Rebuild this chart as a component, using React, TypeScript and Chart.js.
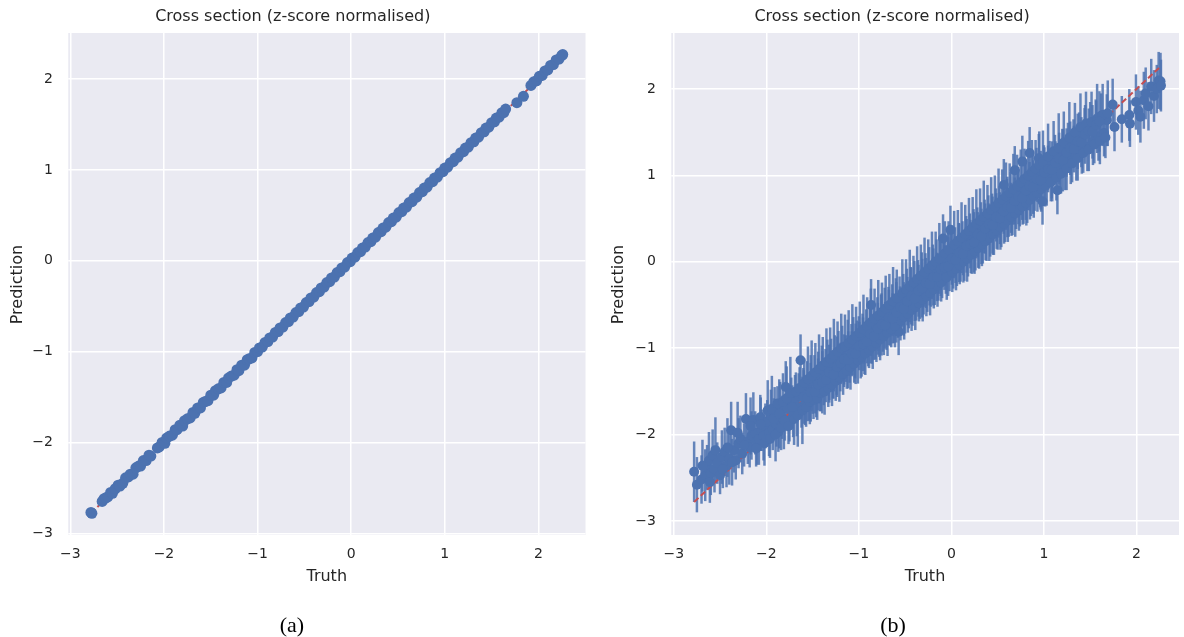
import React, { useEffect, useRef } from "react";
import { Chart, registerables } from "chart.js";
Chart.register(...registerables);

const TITLE = "Cross section (z-score normalised)";
const X_LABEL = "Truth";
const Y_LABEL = "Prediction";
const TICKS = [-3, -2, -1, 0, 1, 2];
const CAPTIONS = ["(a)", "(b)"];

// Panel (a): truth vs prediction (almost perfect)
const truthA = [
  -2.78, -2.77, -2.66, -2.64, -2.62, -2.60, -2.57, -2.55, -2.52, -2.49, -2.47, -2.44, -2.41, -2.38, -2.36, -2.33,
  -2.30, -2.27, -2.25, -2.22, -2.19, -2.16, -2.14, -2.07, -2.05, -2.02, -1.99, -1.97, -1.94, -1.91, -1.88, -1.86,
  -1.83, -1.80, -1.78, -1.75, -1.72, -1.69, -1.67, -1.64, -1.61, -1.58, -1.56, -1.53, -1.50, -1.47, -1.45, -1.42,
  -1.39, -1.36, -1.33, -1.31, -1.28, -1.25, -1.22, -1.20, -1.17, -1.14, -1.11, -1.09, -1.06, -1.03, -1.00, -0.98,
  -0.95, -0.92, -0.89, -0.87, -0.84, -0.81, -0.78, -0.76, -0.73, -0.70, -0.67, -0.65, -0.62, -0.59, -0.56, -0.54,
  -0.51, -0.48, -0.45, -0.43, -0.40, -0.37, -0.34, -0.32, -0.29, -0.26, -0.23, -0.21, -0.18, -0.15, -0.12, -0.10,
  -0.07, -0.04, -0.01, 0.01, 0.04, 0.07, 0.10, 0.12, 0.15, 0.18, 0.21, 0.23, 0.26, 0.29, 0.32, 0.34,
  0.37, 0.40, 0.43, 0.45, 0.48, 0.51, 0.54, 0.56, 0.59, 0.62, 0.65, 0.67, 0.70, 0.73, 0.76, 0.78,
  0.81, 0.84, 0.87, 0.89, 0.92, 0.95, 0.98, 1.00, 1.03, 1.06, 1.09, 1.11, 1.14, 1.17, 1.20, 1.22,
  1.25, 1.28, 1.31, 1.33, 1.36, 1.39, 1.42, 1.44, 1.47, 1.50, 1.53, 1.55, 1.58, 1.61, 1.63, 1.65,
  1.77, 1.84, 1.92, 1.95, 1.98, 2.01, 2.04, 2.07, 2.10, 2.13, 2.16, 2.19, 2.22, 2.25, 2.26,
];
const predA = [
  -2.77, -2.78, -2.65, -2.62, -2.61, -2.60, -2.55, -2.56, -2.51, -2.47, -2.48, -2.45, -2.39, -2.38, -2.35, -2.35,
  -2.28, -2.26, -2.26, -2.20, -2.20, -2.14, -2.15, -2.06, -2.05, -2.00, -2.01, -1.95, -1.93, -1.92, -1.86, -1.86,
  -1.81, -1.82, -1.76, -1.74, -1.73, -1.67, -1.68, -1.62, -1.62, -1.56, -1.55, -1.54, -1.48, -1.48, -1.43, -1.41,
  -1.40, -1.34, -1.34, -1.29, -1.27, -1.26, -1.20, -1.21, -1.15, -1.15, -1.09, -1.08, -1.07, -1.01, -1.00, -0.96,
  -0.95, -0.90, -0.89, -0.85, -0.84, -0.79, -0.78, -0.74, -0.73, -0.68, -0.67, -0.63, -0.62, -0.57, -0.56, -0.52,
  -0.51, -0.46, -0.45, -0.41, -0.40, -0.35, -0.34, -0.30, -0.29, -0.24, -0.23, -0.19, -0.18, -0.13, -0.12, -0.08,
  -0.07, -0.02, -0.01, 0.03, 0.04, 0.09, 0.10, 0.14, 0.15, 0.20, 0.21, 0.25, 0.26, 0.31, 0.32, 0.36,
  0.37, 0.42, 0.43, 0.47, 0.48, 0.53, 0.54, 0.58, 0.59, 0.64, 0.65, 0.69, 0.70, 0.75, 0.76, 0.80,
  0.81, 0.86, 0.87, 0.91, 0.92, 0.97, 0.98, 1.02, 1.03, 1.08, 1.09, 1.13, 1.14, 1.19, 1.20, 1.24,
  1.25, 1.30, 1.31, 1.35, 1.36, 1.41, 1.42, 1.46, 1.47, 1.52, 1.53, 1.57, 1.58, 1.63, 1.63, 1.67,
  1.74, 1.81, 1.93, 1.97, 1.98, 2.03, 2.04, 2.09, 2.10, 2.15, 2.16, 2.21, 2.22, 2.26, 2.27,
];

// Panel (b): truth vs prediction with uncertainty (half-length of error bar)
const truthB = [
  -2.78, -2.75, -2.70, -2.66, -2.64, -2.62, -2.60, -2.58, -2.56, -2.53, -2.50, -2.48, -2.45, -2.43, -2.40, -2.38,
  -2.35, -2.33, -2.30, -2.28, -2.26, -2.22, -2.20, -2.18, -2.16, -2.14, -2.12, -2.10, -2.08, -2.065, -2.05, -2.03,
  -2.01, -1.99, -1.97, -1.95, -1.93, -1.91, -1.89, -1.87, -1.85, -1.83, -1.81, -1.79, -1.77, -1.75, -1.73, -1.71,
  -1.69, -1.67, -1.65, -1.63, -1.62, -1.60, -1.58, -1.56, -1.54, -1.52, -1.50, -1.48, -1.46, -1.44, -1.42, -1.40,
  -1.38, -1.36, -1.34, -1.32, -1.30, -1.28, -1.26, -1.24, -1.22, -1.20, -1.18, -1.16, -1.14, -1.12, -1.10, -1.08,
  -1.06, -1.04, -1.02, -1.00, -0.98, -0.96, -0.94, -0.92, -0.90, -0.88, -0.868, -0.86, -0.84, -0.82, -0.80, -0.78,
  -0.76, -0.74, -0.72, -0.70, -0.68, -0.66, -0.64, -0.62, -0.60, -0.58, -0.57, -0.56, -0.54, -0.52, -0.50, -0.48,
  -0.46, -0.44, -0.42, -0.40, -0.38, -0.36, -0.34, -0.32, -0.30, -0.28, -0.26, -0.24, -0.22, -0.20, -0.18, -0.16,
  -0.14, -0.12, -0.10, -0.09, -0.08, -0.06, -0.04, -0.02, -0.01, 0.00, 0.02, 0.04, 0.06, 0.08, 0.10, 0.12,
  0.14, 0.16, 0.18, 0.20, 0.22, 0.24, 0.26, 0.28, 0.30, 0.32, 0.34, 0.36, 0.38, 0.40, 0.42, 0.44,
  0.46, 0.48, 0.50, 0.52, 0.54, 0.567, 0.58, 0.60, 0.62, 0.64, 0.66, 0.685, 0.70, 0.72, 0.74, 0.767,
  0.78, 0.80, 0.82, 0.846, 0.86, 0.88, 0.90, 0.92, 0.945, 0.96, 0.985, 1.00, 1.03, 1.06, 1.09, 1.12,
  1.146, 1.17, 1.20, 1.23, 1.26, 1.29, 1.32, 1.35, 1.38, 1.41, 1.44, 1.47, 1.50, 1.53, 1.56, 1.59,
  1.62, 1.65, 1.68, 1.743, 1.763, 1.842, 1.923, 1.93, 1.995, 2.02, 2.043, 2.08, 2.10, 2.13, 2.16, 2.19,
  2.22, 2.24, 2.26, 2.265,
];
const predB = [
  -2.43, -2.58, -2.52, -2.47, -2.38, -2.30, -2.45, -2.24, -2.40, -2.33, -2.47, -2.26, -2.20, -2.36, -2.28, -1.95,
  -2.18, -2.30, -2.10, -2.05, -2.22, -1.82, -2.08, -2.15, -2.01, -1.83, -1.98, -2.08, -2.05, -1.80, -1.95, -2.02,
  -1.90, -1.85, -1.98, -1.78, -1.94, -1.73, -1.88, -1.97, -1.68, -1.80, -1.90, -1.45, -1.70, -1.84, -1.62, -1.78,
  -1.58, -1.72, -1.55, -1.14, -1.68, -1.50, -1.64, -1.43, -1.58, -1.38, -1.52, -1.35, -1.55, -1.33, -1.47, -1.25,
  -1.42, -1.28, -1.20, -1.38, -1.17, -1.32, -1.12, -1.30, -1.09, -1.24, -1.02, -1.20, -1.12, -0.97, -1.16, -0.99,
  -0.92, -1.10, -0.95, -0.89, -1.07, -0.85, -1.00, -0.82, -0.97, -0.77, -0.50, -0.92, -0.72, -0.88, -0.69, -0.84,
  -0.65, -0.80, -0.59, -0.76, -0.57, -0.72, -0.53, -0.68, -0.49, -0.64, -0.81, -0.45, -0.60, -0.41, -0.57, -0.37,
  -0.52, -0.33, -0.48, -0.27, -0.44, -0.25, -0.40, -0.19, -0.36, -0.17, -0.32, -0.11, -0.28, -0.07, -0.24, -0.03,
  -0.20, 0.01, -0.16, 0.27, 0.03, -0.12, 0.09, -0.08, 0.37, 0.11, -0.04, 0.15, 0.00, 0.19, 0.04, 0.23,
  0.07, 0.27, 0.10, 0.31, 0.14, 0.35, 0.17, 0.39, 0.21, 0.43, 0.25, 0.47, 0.29, 0.51, 0.33, 0.55,
  0.37, 0.59, 0.41, 0.63, 0.45, 0.89, 0.49, 0.69, 0.53, 0.75, 0.57, 1.06, 0.63, 0.83, 0.67, 1.16,
  0.71, 0.89, 0.73, 1.26, 0.79, 0.97, 0.83, 1.03, 1.20, 0.89, 0.70, 1.09, 0.93, 1.15, 0.97, 1.21,
  0.83, 1.07, 1.29, 1.11, 1.35, 1.17, 1.41, 1.23, 1.47, 1.29, 1.53, 1.33, 1.59, 1.39, 1.63, 1.45,
  1.69, 1.49, 1.64, 1.82, 1.56, 1.65, 1.70, 1.60, 1.85, 1.75, 1.68, 1.87, 1.95, 1.80, 2.03, 1.92,
  2.00, 2.10, 2.09, 2.04,
];
const errB = [
  0.35, 0.32, 0.28, 0.30, 0.26, 0.33, 0.25, 0.30, 0.27, 0.24, 0.22, 0.31, 0.28, 0.25, 0.30, 0.33,
  0.26, 0.22, 0.29, 0.27, 0.24, 0.30, 0.26, 0.23, 0.28, 0.32, 0.25, 0.27, 0.30, 0.26, 0.24, 0.28,
  0.26, 0.25, 0.27, 0.30, 0.24, 0.28, 0.26, 0.23, 0.29, 0.25, 0.27, 0.30, 0.26, 0.24, 0.28, 0.25,
  0.27, 0.30, 0.26, 0.30, 0.24, 0.27, 0.25, 0.28, 0.26, 0.30, 0.24, 0.27, 0.25, 0.29, 0.26, 0.28,
  0.24, 0.27, 0.30, 0.25, 0.28, 0.26, 0.27, 0.24, 0.29, 0.26, 0.28, 0.25, 0.27, 0.30, 0.24, 0.27,
  0.28, 0.25, 0.27, 0.26, 0.28, 0.25, 0.30, 0.27, 0.24, 0.29, 0.30, 0.26, 0.27, 0.25, 0.28, 0.26,
  0.27, 0.24, 0.29, 0.26, 0.28, 0.25, 0.27, 0.26, 0.30, 0.24, 0.27, 0.28, 0.25, 0.27, 0.26, 0.29,
  0.25, 0.27, 0.26, 0.28, 0.24, 0.27, 0.26, 0.30, 0.25, 0.27, 0.26, 0.28, 0.24, 0.27, 0.26, 0.29,
  0.25, 0.27, 0.26, 0.28, 0.27, 0.25, 0.28, 0.26, 0.28, 0.26, 0.27, 0.25, 0.28, 0.26, 0.27, 0.24,
  0.29, 0.26, 0.27, 0.25, 0.28, 0.26, 0.27, 0.24, 0.29, 0.26, 0.27, 0.25, 0.28, 0.26, 0.27, 0.24,
  0.29, 0.26, 0.27, 0.25, 0.28, 0.30, 0.26, 0.27, 0.24, 0.29, 0.26, 0.28, 0.25, 0.27, 0.26, 0.30,
  0.27, 0.25, 0.28, 0.30, 0.26, 0.27, 0.24, 0.29, 0.28, 0.26, 0.27, 0.26, 0.28, 0.25, 0.27, 0.26,
  0.28, 0.27, 0.25, 0.28, 0.26, 0.27, 0.24, 0.29, 0.26, 0.27, 0.25, 0.28, 0.26, 0.27, 0.25, 0.28,
  0.26, 0.27, 0.30, 0.30, 0.28, 0.27, 0.30, 0.27, 0.32, 0.28, 0.30, 0.33, 0.30, 0.28, 0.32, 0.30,
  0.28, 0.33, 0.33, 0.30,
];
// Panel (b), further samples in the dense part of the cloud
const truthB2 = [
  -2.69, -2.61, -2.55, -2.47, -2.42, -2.37, -2.31, -2.24, -2.17, -2.11, -2.06, -2.02,
  -1.985, -1.96, -1.94, -1.92, -1.90, -1.88, -1.86, -1.84, -1.82, -1.80,
  -1.78, -1.76, -1.74, -1.72, -1.70, -1.68, -1.66, -1.64, -1.61, -1.59,
  -1.57, -1.55, -1.53, -1.51, -1.49, -1.47, -1.45, -1.43, -1.41, -1.39,
  -1.37, -1.35, -1.33, -1.31, -1.29, -1.27, -1.25, -1.23, -1.21, -1.19,
  -1.17, -1.15, -1.13, -1.11, -1.09, -1.07, -1.05, -1.03, -1.01,
  -0.99, -0.97, -0.95, -0.93, -0.91, -0.89, -0.87, -0.85, -0.83, -0.81,
  -0.79, -0.77, -0.75, -0.73, -0.71, -0.69, -0.67, -0.65, -0.63, -0.61,
  -0.59, -0.55, -0.53, -0.51, -0.49, -0.47, -0.45, -0.43, -0.41, -0.39,
  -0.37, -0.35, -0.33, -0.31, -0.29, -0.27, -0.25, -0.23, -0.21, -0.19,
  -0.17, -0.15, -0.13, -0.11, -0.07, -0.05, -0.03, 0.01,
  0.03, 0.05, 0.07, 0.09, 0.11, 0.13, 0.15, 0.17, 0.19, 0.21,
  0.23, 0.25, 0.27, 0.29, 0.31, 0.33, 0.35, 0.37, 0.39, 0.41,
  0.43, 0.45, 0.47, 0.49, 0.51, 0.53, 0.55, 0.57, 0.59, 0.61,
  0.63, 0.65, 0.67, 0.69, 0.71, 0.73, 0.75, 0.77, 0.79, 0.81,
  0.83, 0.85, 0.87, 0.89, 0.91, 0.93, 0.95, 0.97, 0.99,
  1.015, 1.045, 1.075, 1.105, 1.135, 1.16, 1.185, 1.215, 1.245, 1.275, 1.305, 1.335,
  1.365, 1.395, 1.425, 1.455, 1.485, 1.515, 1.545, 1.575, 1.605, 1.635, 1.665, 1.69,
];
const predB2 = [
  -2.36, -2.55, -2.18, -2.40, -2.15, -2.32, -1.98, -2.12, -1.90, -2.16, -1.88, -2.10,
  -1.72, -2.05, -1.70, -1.82, -2.00, -1.64, -1.76, -1.92, -1.62, -1.84,
  -1.58, -1.90, -1.52, -1.68, -1.82, -1.50, -1.78, -1.46, -1.72, -1.40,
  -1.68, -1.36, -1.62, -1.32, -1.60, -1.28, -1.58, -1.24, -1.52, -1.20,
  -1.50, -1.16, -1.46, -1.12, -1.42, -1.08, -1.38, -1.04, -1.34, -1.00,
  -1.30, -0.98, -1.26, -0.94, -1.22, -0.90, -1.18, -0.86, -1.14,
  -0.82, -1.10, -0.78, -1.06, -0.74, -1.02, -0.70, -0.98, -0.66, -0.94,
  -0.62, -0.90, -0.58, -0.86, -0.54, -0.82, -0.50, -0.78, -0.46, -0.74,
  -0.42, -0.68, -0.36, -0.64, -0.32, -0.60, -0.28, -0.56, -0.24, -0.52,
  -0.20, -0.48, -0.16, -0.44, -0.12, -0.40, -0.08, -0.36, -0.04, -0.32,
  0.00, -0.28, 0.04, -0.24, 0.10, -0.18, 0.14, -0.12,
  0.20, -0.08, 0.24, -0.04, 0.28, 0.00, 0.32, 0.04, 0.36, 0.08,
  0.40, 0.12, 0.44, 0.16, 0.48, 0.20, 0.52, 0.24, 0.56, 0.28,
  0.60, 0.32, 0.64, 0.36, 0.68, 0.40, 0.72, 0.44, 0.76, 0.48,
  0.80, 0.52, 0.84, 0.56, 0.88, 0.60, 0.92, 0.64, 0.96, 0.68,
  1.00, 0.72, 1.04, 0.76, 1.08, 0.80, 1.12, 0.84, 1.16,
  0.88, 1.22, 0.92, 1.28, 0.98, 1.32, 1.02, 1.38, 1.08, 1.44, 1.14, 1.50,
  1.20, 1.56, 1.26, 1.60, 1.30, 1.62, 1.36, 1.66, 1.40, 1.70, 1.44, 1.72,
];
const errB2 = [
  0.30, 0.24, 0.38, 0.22, 0.34, 0.27, 0.36, 0.25, 0.33, 0.21, 0.31, 0.26,
  0.35, 0.22, 0.38, 0.24, 0.31, 0.20, 0.40, 0.26, 0.33, 0.23,
  0.37, 0.21, 0.42, 0.25, 0.30, 0.22, 0.36, 0.24, 0.39, 0.28,
  0.23, 0.38, 0.26, 0.41, 0.22, 0.34, 0.25, 0.40, 0.21, 0.33,
  0.27, 0.39, 0.22, 0.36, 0.25, 0.42, 0.23, 0.35, 0.28, 0.40,
  0.24, 0.37, 0.21, 0.38, 0.26, 0.41, 0.22, 0.34, 0.27,
  0.36, 0.23, 0.40, 0.25, 0.33, 0.21, 0.39, 0.26, 0.35, 0.22,
  0.41, 0.24, 0.34, 0.22, 0.38, 0.27, 0.36, 0.21, 0.40, 0.25,
  0.33, 0.23, 0.39, 0.26, 0.35, 0.22, 0.42, 0.24, 0.31, 0.27,
  0.38, 0.21, 0.36, 0.25, 0.40, 0.23, 0.34, 0.26, 0.39, 0.22,
  0.35, 0.24, 0.41, 0.22, 0.37, 0.26, 0.33, 0.23,
  0.39, 0.25, 0.36, 0.22, 0.41, 0.24, 0.34, 0.27, 0.38, 0.21,
  0.35, 0.26, 0.40, 0.23, 0.37, 0.25, 0.42, 0.22, 0.33, 0.27,
  0.38, 0.24, 0.36, 0.21, 0.40, 0.26, 0.35, 0.23, 0.39, 0.25,
  0.34, 0.22, 0.41, 0.27, 0.36, 0.24, 0.38, 0.21, 0.35, 0.26,
  0.40, 0.23, 0.37, 0.25, 0.33, 0.22, 0.39, 0.26, 0.36,
  0.24, 0.38, 0.22, 0.35, 0.27, 0.40, 0.23, 0.36, 0.25, 0.41, 0.22, 0.34,
  0.26, 0.39, 0.23, 0.37, 0.25, 0.35, 0.22, 0.40, 0.27, 0.36, 0.24, 0.38,
];
// Panel (b), samples lying close to the identity line in the core of the cloud
const truthB3 = [
  -1.595, -1.555, -1.52, -1.475, -1.44, -1.395, -1.355, -1.32, -1.275, -1.235, -1.195,
  -1.16, -1.115, -1.075, -1.035, -0.995, -0.955, -0.915, -0.875, -0.835, -0.795, -0.755,
  -0.715, -0.675, -0.635, -0.595, -0.555, -0.515, -0.475, -0.435, -0.395, -0.355, -0.315,
  -0.275, -0.235, -0.195, -0.155, -0.115, -0.075, -0.035,
  0.005, 0.045, 0.085, 0.125, 0.165, 0.205, 0.245, 0.285, 0.325, 0.365, 0.405,
  0.445, 0.485, 0.525, 0.565, 0.605, 0.645, 0.685, 0.725, 0.765, 0.805, 0.845,
  0.885, 0.925, 0.965, 1.005, 1.045, 1.085, 1.125, 1.165, 1.205, 1.245, 1.285,
  1.325, 1.365, 1.405, 1.445, 1.485, 1.525, 1.565, 1.60,
];
const predB3 = [
  -1.565, -1.575, -1.51, -1.505, -1.42, -1.395, -1.365, -1.28, -1.305, -1.215, -1.175,
  -1.13, -1.135, -1.065, -1.065, -0.975, -0.955, -0.925, -0.835, -0.865, -0.775, -0.725,
  -0.735, -0.645, -0.655, -0.585, -0.525, -0.545, -0.455, -0.395, -0.425, -0.335, -0.305,
  -0.245, -0.255, -0.175, -0.175, -0.085, -0.065, -0.055,
  0.035, 0.025, 0.105, 0.095, 0.185, 0.205, 0.225, 0.315, 0.295, 0.385, 0.435,
  0.425, 0.515, 0.505, 0.585, 0.635, 0.625, 0.705, 0.755, 0.735, 0.825, 0.875,
  0.865, 0.955, 0.945, 1.035, 1.075, 1.065, 1.145, 1.195, 1.175, 1.265, 1.315,
  1.305, 1.395, 1.385, 1.475, 1.515, 1.505, 1.585, 1.625,
];
const errB3 = [
  0.31, 0.27, 0.34, 0.25, 0.30, 0.36, 0.26, 0.32, 0.28, 0.35, 0.24,
  0.29, 0.33, 0.26, 0.35, 0.28, 0.31, 0.25, 0.34, 0.27, 0.30, 0.36,
  0.27, 0.32, 0.29, 0.35, 0.24, 0.31, 0.28, 0.33, 0.26, 0.30, 0.34,
  0.29, 0.25, 0.33, 0.28, 0.31, 0.26, 0.34,
  0.30, 0.27, 0.34, 0.25, 0.31, 0.28, 0.35, 0.26, 0.32, 0.29, 0.24,
  0.33, 0.28, 0.30, 0.26, 0.35, 0.29, 0.27, 0.32, 0.25, 0.34, 0.28,
  0.31, 0.26, 0.34, 0.29, 0.27, 0.33, 0.25, 0.30, 0.36, 0.28, 0.31,
  0.27, 0.32, 0.29, 0.34, 0.26, 0.31, 0.28, 0.35,
];

// Identity reference line (truth range)
const diagEnds = [-2.78, 2.26];

const BLUE = "#4C72B0";
const BAR_BLUE = "rgba(76,114,176,0.85)";
const RED = "#C44E52";
const FACE = "#EAEAF2";
const TEXT = "#262626";
const FONT = "DejaVu Sans";

const fmt = (v: number) => (v < 0 ? "\u2212" + Math.abs(v) : String(v));

const facePlugin = {
  id: "face",
  beforeDraw(chart: any) {
    const { ctx, chartArea: a } = chart;
    ctx.save();
    ctx.fillStyle = FACE;
    ctx.fillRect(a.left, a.top, a.right - a.left, a.bottom - a.top);
    ctx.restore();
  },
};

type PanelCfg = {
  xMin: number; xMax: number; yMin: number; yMax: number;
  yAxisWidth: number; padRight: number; yTitlePad: number;
  truth: number[]; pred: number[]; err?: number[]; radius: number;
};

// error bars: drawn under the dashed identity line and the markers
function makeErrorPlugin(truth: number[], pred: number[], err: number[]) {
  return {
    id: "errbars",
    beforeDatasetsDraw(chart: any) {
      const { ctx, chartArea: a, scales } = chart;
      ctx.save();
      ctx.beginPath();
      ctx.rect(a.left, a.top, a.right - a.left, a.bottom - a.top);
      ctx.clip();
      ctx.strokeStyle = BAR_BLUE;
      ctx.lineWidth = 2.5;
      for (let i = 0; i < truth.length; i++) {
        const x = scales.x.getPixelForValue(truth[i]);
        const y1 = scales.y.getPixelForValue(pred[i] - err[i]);
        const y2 = scales.y.getPixelForValue(pred[i] + err[i]);
        ctx.beginPath();
        ctx.moveTo(x, y1);
        ctx.lineTo(x, y2);
        ctx.stroke();
      }
      ctx.restore();
    },
  };
}

function Panel({ cfg, width, height }: { cfg: PanelCfg; width: number; height: number }) {
  const ref = useRef<HTMLCanvasElement | null>(null);
  useEffect(() => {
    if (!ref.current) return;
    const plugins: any[] = [facePlugin];
    if (cfg.err) plugins.push(makeErrorPlugin(cfg.truth, cfg.pred, cfg.err));
    const tickFont = { family: FONT, size: 14 };
    const chart = new Chart(ref.current, {
      type: "scatter",
      data: {
        datasets: [
          {
            data: diagEnds.map((v) => ({ x: v, y: v })),
            showLine: true,
            borderColor: RED,
            borderWidth: 2,
            borderDash: [6, 3],
            pointRadius: 0,
            order: 2,
          } as any,
          {
            data: cfg.truth.map((t, i) => ({ x: t, y: cfg.pred[i] })),
            backgroundColor: BLUE,
            borderColor: BLUE,
            borderWidth: 0,
            pointRadius: cfg.radius,
            order: 1,
          },
        ],
      },
      options: {
        animation: false,
        responsive: false,
        devicePixelRatio: 1,
        layout: { padding: { left: 0, right: cfg.padRight, top: 0, bottom: 0 } },
        plugins: {
          legend: { display: false },
          tooltip: { enabled: false },
          title: {
            display: true,
            text: TITLE,
            color: TEXT,
            font: { family: FONT, size: 16, weight: "normal", lineHeight: 1 },
            padding: { top: 9, bottom: 8 },
          },
        },
        scales: {
          x: {
            type: "linear",
            min: cfg.xMin,
            max: cfg.xMax,
            afterBuildTicks: (s: any) => { s.ticks = TICKS.map((v) => ({ value: v })); },
            afterFit: (s: any) => { s.height = 101; },
            ticks: { color: TEXT, font: tickFont, padding: 10, callback: (v: any) => fmt(Number(v)), maxRotation: 0 },
            grid: { color: "#FFFFFF", lineWidth: 1.5, drawTicks: false },
            border: { display: true, color: "#FFFFFF", width: 1.25 },
            title: {
              display: true,
              text: X_LABEL,
              color: TEXT,
              font: { family: FONT, size: 16, lineHeight: 1 },
              padding: { top: 4, bottom: 52.5 },
            },
          },
          y: {
            type: "linear",
            min: cfg.yMin,
            max: cfg.yMax,
            afterBuildTicks: (s: any) => { s.ticks = TICKS.map((v) => ({ value: v })); },
            afterFit: (s: any) => { s.width = cfg.yAxisWidth; },
            ticks: { color: TEXT, font: tickFont, padding: 15, callback: (v: any) => fmt(Number(v)) },
            grid: { color: "#FFFFFF", lineWidth: 1.5, drawTicks: false },
            border: { display: true, color: "#FFFFFF", width: 1.25 },
            title: {
              display: true,
              text: Y_LABEL,
              color: TEXT,
              font: { family: FONT, size: 16, lineHeight: 1 },
              padding: { top: cfg.yTitlePad, bottom: 4 },
            },
          },
        },
      } as any,
      plugins,
    });
    return () => chart.destroy();
  }, [cfg]);
  return <canvas ref={ref} width={width} height={height} style={{ display: "block", width, height }} />;
}

const cfgA: PanelCfg = {
  xMin: -3.025, xMax: 2.503, yMin: -3.03, yMax: 2.507,
  yAxisWidth: 68, padRight: 14.5, yTitlePad: 9.5,
  truth: truthA, pred: predA, radius: 5.5,
};
const cfgB: PanelCfg = {
  xMin: -3.03, xMax: 2.46, yMin: -3.174, yMax: 2.649,
  yAxisWidth: 71, padRight: 0, yTitlePad: 11,
  truth: truthB.concat(truthB2, truthB3),
  pred: predB.concat(predB2, predB3),
  err: errB.concat(errB2, errB3),
  radius: 5,
};

const captionStyle: React.CSSProperties = {
  position: "absolute",
  top: 610,
  width: 80,
  textAlign: "center",
  fontFamily: "'Liberation Serif', 'DejaVu Serif', serif",
  fontSize: 22,
  lineHeight: "30px",
  color: "#000",
};

export default function App() {
  return (
    <div style={{ position: "fixed", left: 0, top: 0, width: 1184, height: 637, background: "#fff", overflow: "hidden" }}>
      <div style={{ position: "absolute", left: 0, top: 0 }}>
        <Panel cfg={cfgA} width={600} height={637} />
      </div>
      <div style={{ position: "absolute", left: 600, top: 0 }}>
        <Panel cfg={cfgB} width={584} height={637} />
      </div>
      <div style={{ ...captionStyle, left: 292 - 40 }}>{CAPTIONS[0]}</div>
      <div style={{ ...captionStyle, left: 893 - 40 }}>{CAPTIONS[1]}</div>
    </div>
  );
}
